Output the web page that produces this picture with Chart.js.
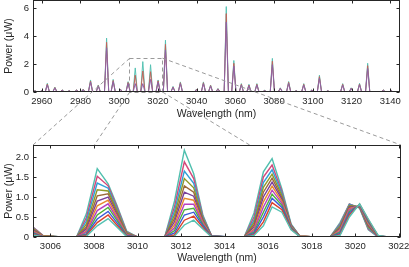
<!DOCTYPE html>
<html>
<head>
<meta charset="utf-8">
<script src="https://cdn.jsdelivr.net/npm/chart.js@4"></script>
<style>
body { margin: 0; background: #fff; }
#wrap { position: relative; width: 409px; height: 267px; overflow: hidden; }
canvas { position: absolute; left: 0; }
</style>
</head>
<body>
<div id="wrap">
<canvas id="fullChart" width="409" height="125" style="top:0"></canvas>
<canvas id="zoomChart" width="409" height="134" style="top:133px"></canvas>
<canvas id="overlay" width="409" height="267" style="top:0; pointer-events:none"></canvas>
</div>
<script>
// full spectrum: peak centres (nm) and heights (uW) for three traces
var peakWl = [2956.5, 2960, 2962.9, 2966.8, 2970.6, 2974.2, 2978, 2981.4, 2985.2, 2989.2,
    2993.5, 2996.9, 3000.7, 3004.6, 3008.3, 3012.2, 3016.2, 3020.1, 3023.9, 3027.8,
    3031.6, 3039.9, 3043.5, 3047.2, 3051, 3055.3, 3059.2, 3063.1, 3067, 3071.1,
    3075.1, 3079.1, 3083.2, 3087.5, 3091.4, 3095.3, 3099.5, 3103.4, 3107.7, 3115.4,
    3119.8, 3124.1, 3128.3, 3136.4, 3140.4];
var peakHigh = [0.1, 0.1, 0.62, 0.35, 0.15, 0.1, 0.15, 0.2, 0.86, 0.5,
    3.85, 0.9, 0.2, 0.74, 1.72, 2.17, 1.95, 0.86, 3.7, 0.4,
    0.72, 0.2, 0.72, 0.5, 0.25, 6.1, 2.25, 0.6, 0.55, 0.6,
    0.12, 2.4, 0.3, 0.75, 0.1, 0.6, 0.15, 1.2, 0.1, 0.6,
    0.3, 0.62, 2.05, 0.15, 0.12];
var peakMid = [0.09, 0.09, 0.57, 0.32, 0.14, 0.09, 0.14, 0.18, 0.78, 0.46,
    3.55, 0.82, 0.18, 0.68, 1.2, 1.5, 1.45, 0.8, 3.4, 0.36,
    0.66, 0.18, 0.66, 0.46, 0.23, 5.6, 2.05, 0.55, 0.5, 0.55,
    0.11, 2.2, 0.27, 0.69, 0.09, 0.55, 0.14, 1.1, 0.09, 0.55,
    0.27, 0.57, 1.88, 0.14, 0.11];
var peakLow = [0.08, 0.08, 0.5, 0.28, 0.12, 0.08, 0.12, 0.16, 0.7, 0.41,
    3.15, 0.74, 0.16, 0.6, 0.6, 0.6, 0.9, 0.7, 3.0, 0.33,
    0.59, 0.16, 0.59, 0.41, 0.2, 5.0, 1.85, 0.49, 0.45, 0.49,
    0.1, 1.95, 0.25, 0.61, 0.08, 0.49, 0.12, 0.98, 0.08, 0.49,
    0.25, 0.51, 1.68, 0.12, 0.1];
var fullXTicks = [2960, 2980, 3000, 3020, 3040, 3060, 3080, 3100, 3120, 3140];
var fullYTicks = [0, 2, 4, 6];

// zoomed window 3005-3022 nm
var zoomWl = [3005.2, 3005.65, 3006.5, 3007.2, 3007.65, 3008.15, 3008.65, 3009.05, 3009.5, 3010.0,
    3010.8, 3011.25, 3011.7, 3012.15, 3012.58, 3013.0, 3013.4, 3014.2, 3014.9, 3015.35,
    3015.78, 3016.18, 3016.63, 3017.05, 3017.45, 3018.2, 3018.85, 3019.3, 3019.73, 3020.2,
    3020.6, 3021.05, 3021.5, 3022.1];
var zoomPower = [
    [0.05,0.0,0,0, 0.02,0.28,0.46,0.25,0.01, 0,0,0, 0.02,0.30,0.42,0.20,0.0, 0,0, 0.04,0.28,0.75,0.62,0.18,0.01, 0,0, 0.04,0.50,0.83,0.45,0.04, 0,0],
    [0.07,0.0,0,0, 0.04,0.36,0.55,0.3,0.02, 0,0,0, 0.05,0.42,0.52,0.24,0.0, 0,0, 0.06,0.38,0.86,0.68,0.2,0.01, 0,0, 0.06,0.55,0.82,0.43,0.03, 0,0],
    [0.09,0.01,0,0, 0.06,0.45,0.64,0.36,0.03, 0,0,0, 0.1,0.55,0.62,0.28,0.0, 0,0, 0.09,0.5,0.97,0.74,0.22,0.01, 0,0, 0.09,0.6,0.81,0.4,0.03, 0,0],
    [0.11,0.01,0,0, 0.08,0.55,0.74,0.42,0.04, 0,0,0, 0.16,0.68,0.72,0.31,0.01, 0,0, 0.12,0.62,1.07,0.79,0.24,0.01, 0,0, 0.12,0.64,0.8,0.38,0.02, 0,0],
    [0.13,0.01,0,0, 0.12,0.66,0.83,0.47,0.05, 0,0,0, 0.23,0.82,0.82,0.34,0.01, 0,0, 0.16,0.75,1.17,0.84,0.25,0.01, 0,0, 0.15,0.68,0.79,0.36,0.02, 0,0],
    [0.15,0.02,0,0, 0.15,0.78,0.92,0.52,0.06, 0,0,0, 0.3,0.97,0.92,0.37,0.01, 0,0, 0.2,0.88,1.27,0.89,0.26,0.02, 0,0, 0.18,0.71,0.78,0.33,0.02, 0,0],
    [0.17,0.02,0,0, 0.2,0.9,1.0,0.57,0.07, 0,0,0, 0.38,1.12,1.02,0.4,0.02, 0,0, 0.25,1.0,1.37,0.94,0.27,0.02, 0,0, 0.21,0.74,0.77,0.3,0.01, 0,0],
    [0.19,0.02,0,0, 0.25,1.03,1.08,0.62,0.08, 0,0,0, 0.46,1.28,1.12,0.43,0.02, 0,0, 0.3,1.12,1.47,0.99,0.28,0.02, 0,0, 0.24,0.77,0.76,0.28,0.01, 0,0],
    [0.21,0.03,0,0, 0.32,1.18,1.15,0.67,0.1, 0,0,0, 0.55,1.46,1.23,0.46,0.02, 0,0, 0.36,1.24,1.57,1.04,0.29,0.02, 0,0, 0.27,0.79,0.75,0.25,0.01, 0,0],
    [0.22,0.03,0,0, 0.4,1.35,1.22,0.71,0.11, 0,0,0, 0.65,1.65,1.34,0.49,0.03, 0,0, 0.42,1.36,1.68,1.09,0.3,0.02, 0,0, 0.3,0.81,0.74,0.22,0.0, 0,0],
    [0.24,0.04,0,0, 0.48,1.52,1.28,0.76,0.13, 0,0,0, 0.76,1.88,1.46,0.52,0.03, 0,0, 0.5,1.5,1.8,1.14,0.31,0.02, 0,0, 0.33,0.82,0.73,0.2,0.0, 0,0],
    [0.25,0.04,0,0, 0.58,1.71,1.33,0.8,0.15, 0,0,0, 0.9,2.17,1.58,0.55,0.03, 0,0, 0.6,1.63,1.96,1.2,0.33,0.02, 0,0, 0.36,0.83,0.72,0.18,0.0, 0,0]
];
var zoomXTicks = [3006, 3008, 3010, 3012, 3014, 3016, 3018, 3020, 3022];
var zoomYTicks = [0, 0.5, 1, 1.5, 2];
var zoomBoxTop = 2.45;

var lineColors = ['#56c2b3', '#d9412b', '#3a5bd9', '#4caf3c', '#b83fbf', '#e8892a',
                  '#7a3f9a', '#9b6a3a', '#8f9a2a', '#2f9fd8', '#d4477a', '#4fbfae'];
var ink = '#262626';
var fontFam = '"Liberation Sans", Arial, sans-serif';

Chart.defaults.font.family = fontFam;
Chart.defaults.color = ink;

function peakPoints(heights) {
    var pts = [{ x: 2955.5, y: 0 }];
    for (var i = 0; i < peakWl.length; i++) {
        pts.push({ x: peakWl[i] - 1.1, y: 0 });
        pts.push({ x: peakWl[i], y: heights[i] });
        pts.push({ x: peakWl[i] + 1.1, y: 0 });
    }
    pts.push({ x: 3145, y: 0 });
    return pts;
}

// box frame + inward ticks, MATLAB style
var boxTicks = {
    id: 'boxTicks',
    afterDatasetsDraw: function (chart) {
        var a = chart.chartArea, ctx = chart.ctx, sx = chart.scales.x, sy = chart.scales.y;
        ctx.save();
        if (chart.canvas.id == 'fullChart') {
            ctx.setLineDash([4, 3]);
            ctx.strokeStyle = '#9a9a9a';
            ctx.lineWidth = 1;
            var x0 = sx.getPixelForValue(zoomWl[0]), x1 = sx.getPixelForValue(zoomWl[zoomWl.length - 1]);
            var y0 = sy.getPixelForValue(zoomBoxTop), y1 = sy.getPixelForValue(0);
            ctx.strokeRect(Math.round(x0) + 0.5, Math.round(y0) + 0.5, Math.round(x1 - x0), Math.round(y1 - y0));
            ctx.setLineDash([]);
        }
        ctx.strokeStyle = ink;
        ctx.lineWidth = 1;
        var L = Math.round(a.left) + 0.5, R = Math.round(a.right) - 0.5;
        var T = Math.round(a.top) + 0.5, B = Math.round(a.bottom) - 0.5;
        ctx.strokeRect(L, T, R - L, B - T);
        ctx.beginPath();
        sx.ticks.forEach(function (t) {
            var x = Math.round(sx.getPixelForValue(t.value)) + 0.5;
            ctx.moveTo(x, B); ctx.lineTo(x, B - 3);
            ctx.moveTo(x, T); ctx.lineTo(x, T + 3);
        });
        sy.ticks.forEach(function (t) {
            var y = Math.round(sy.getPixelForValue(t.value)) + 0.5;
            ctx.moveTo(L, y); ctx.lineTo(L + 3, y);
            ctx.moveTo(R, y); ctx.lineTo(R - 3, y);
        });
        ctx.stroke();
        ctx.restore();
    }
};

function axisOpts(min, max, tickList, fmt, title, fitSize, tickPad, titlePad) {
    return {
        type: 'linear',
        min: min,
        max: max,
        grid: { display: false, drawTicks: false },
        border: { display: false },
        afterBuildTicks: function (s) { s.ticks = tickList.map(function (v) { return { value: v }; }); },
        afterFit: function (s) {
            if (s.isHorizontal()) { s.height = fitSize; } else { s.width = fitSize; }
            s.paddingTop = 0; s.paddingBottom = 0; s.paddingLeft = 0; s.paddingRight = 0;
        },
        ticks: {
            autoSkip: false, maxRotation: 0, padding: tickPad,
            font: { size: 9.5 }, color: ink,
            callback: fmt
        },
        title: { display: true, text: title, font: { size: 10.5 }, color: ink, padding: titlePad }
    };
}

var fullChart = new Chart(document.getElementById('fullChart'), {
    type: 'line',
    data: {
        datasets: [
            { data: peakPoints(peakLow), borderColor: '#8e63a8' },
            { data: peakPoints(peakMid), borderColor: '#c0645a' },
            { data: peakPoints(peakHigh), borderColor: '#56c2b3' }
        ]
    },
    options: {
        responsive: false,
        animation: false,
        devicePixelRatio: 1,
        layout: { padding: { top: 0, right: 9, bottom: 0, left: 0 } },
        elements: { point: { radius: 0 }, line: { borderWidth: 1, tension: 0 } },
        plugins: { legend: { display: false }, tooltip: { enabled: false } },
        scales: {
            x: axisOpts(2955.5, 3145, fullXTicks, function (v) { return String(v); },
                'Wavelength (nm)', 33, 4, { top: 0, bottom: 5 }),
            y: axisOpts(0, 6.57, fullYTicks, function (v) { return String(v); },
                'Power (\u03bcW)', 33, 4, { top: 3, bottom: 0 })
        }
    },
    plugins: [boxTicks]
});

var zoomSets = zoomPower.map(function (row, k) {
    return {
        data: row.map(function (v, i) { return { x: zoomWl[i], y: v }; }),
        borderColor: lineColors[k % lineColors.length]
    };
});

var zoomChart = new Chart(document.getElementById('zoomChart'), {
    type: 'line',
    data: { datasets: zoomSets },
    options: {
        responsive: false,
        animation: false,
        devicePixelRatio: 1,
        layout: { padding: { top: 12, right: 8, bottom: 0, left: 0 } },
        elements: { point: { radius: 0 }, line: { borderWidth: 1.4, tension: 0 } },
        plugins: { legend: { display: false }, tooltip: { enabled: false } },
        scales: {
            x: axisOpts(3005.2, 3022.1, zoomXTicks, function (v) { return String(v); },
                'Wavelength (nm)', 30, 4, { top: 0, bottom: 3 }),
            y: axisOpts(0, 2.3, zoomYTicks, function (v) { return v === 0 ? '0' : v.toFixed(1); },
                'Power (\u03bcW)', 33, 4, { top: 3, bottom: 0 })
        }
    },
    plugins: [boxTicks]
});

// dashed connectors from the zoom box to the lower axes corners
function drawConnectors() {
    var ov = document.getElementById('overlay');
    var ctx = ov.getContext('2d');
    var fx = fullChart.scales.x, fy = fullChart.scales.y;
    var za = zoomChart.chartArea;
    var off = zoomChart.canvas.offsetTop;
    var x0 = fx.getPixelForValue(zoomWl[0]) + 0.5, x1 = fx.getPixelForValue(zoomWl[zoomWl.length - 1]) + 0.5;
    var yT = fy.getPixelForValue(zoomBoxTop) + 0.5, yB = fy.getPixelForValue(0);
    var segs = [
        [x0, yT, za.left, za.top + off],
        [x1, yT, za.right, za.top + off],
        [x0, yB, za.left, za.bottom + off],
        [x1, yB, za.right, za.bottom + off]
    ];
    ctx.save();
    ctx.beginPath();
    ctx.rect(0, 0, ov.width, za.top + off);
    ctx.clip();
    ctx.setLineDash([4, 3]);
    ctx.strokeStyle = '#9a9a9a';
    ctx.lineWidth = 1;
    segs.forEach(function (s) {
        ctx.beginPath();
        ctx.moveTo(s[0], s[1]);
        ctx.lineTo(s[2], s[3]);
        ctx.stroke();
    });
    ctx.restore();
}
drawConnectors();
</script>
</body>
</html>
